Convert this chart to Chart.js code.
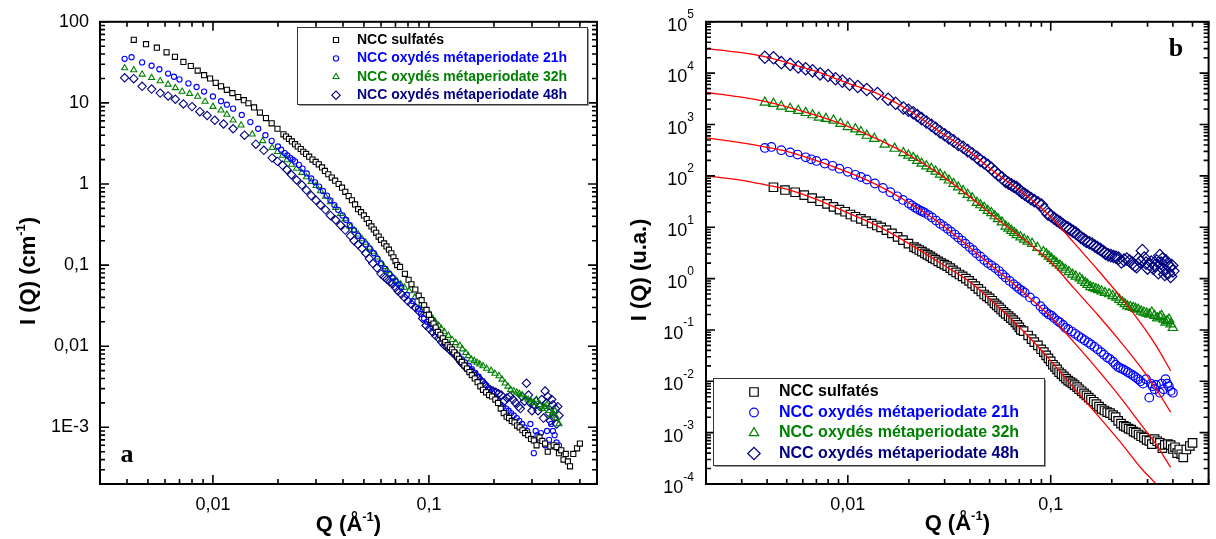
<!DOCTYPE html>
<html lang="fr">
<head>
<meta charset="utf-8">
<title>NCC - SAXS</title>
<script src="https://cdn.jsdelivr.net/npm/chart.js@4.4.1/dist/chart.umd.min.js"></script>
<style>
  html, body { margin: 0; padding: 0; background: #fff; }
  #wrap { position: relative; width: 1216px; height: 539px; overflow: hidden; background: #fff; }
  #wrap canvas { position: absolute; top: 0; }
  #panelA { left: 0; }
  #panelB { left: 608px; }
</style>
</head>
<body>
<div id="wrap">
  <canvas id="panelA" width="608" height="539"></canvas>
  <canvas id="panelB" width="608" height="539"></canvas>
</div>
<script>
// Données : Q (Å-1) et I (cm-1)
const seriesLabels = [
  'NCC sulfatés',
  'NCC oxydés métaperiodate 21h',
  'NCC oxydés métaperiodate 32h',
  'NCC oxydés métaperiodate 48h'
];

const qSulf = [0.0043, 0.0049, 0.0055, 0.0061, 0.00667, 0.0073, 0.0079, 0.0085, 0.0091, 0.0097,
  0.0103, 0.0109, 0.0116, 0.0123, 0.0131, 0.0139, 0.0146, 0.0155, 0.0165, 0.0176,
  0.0187, 0.0199, 0.0212, 0.0218, 0.0225, 0.0232, 0.024, 0.0247, 0.0255, 0.0262,
  0.027, 0.0279, 0.0289, 0.0299, 0.0309, 0.032, 0.033, 0.0342, 0.0355, 0.0368,
  0.0382, 0.0396, 0.041, 0.0425, 0.044, 0.0455, 0.047, 0.0485, 0.050, 0.0515,
  0.0528, 0.0542, 0.0556, 0.057, 0.0585, 0.06, 0.062, 0.0636, 0.0653, 0.067,
  0.0685, 0.07, 0.0713, 0.0735, 0.0774, 0.0805, 0.083, 0.0865, 0.0897, 0.0925,
  0.095, 0.0975, 0.1, 0.1025, 0.105, 0.1075, 0.11, 0.113, 0.116, 0.119,
  0.122, 0.125, 0.128, 0.131, 0.135, 0.138, 0.142, 0.146, 0.15, 0.154,
  0.158, 0.163, 0.168, 0.173, 0.178, 0.184, 0.19, 0.196, 0.203, 0.209,
  0.215, 0.222, 0.229, 0.235, 0.242, 0.249, 0.256, 0.263, 0.271, 0.279,
  0.288, 0.297, 0.306, 0.315, 0.325, 0.335, 0.345, 0.355, 0.365, 0.378,
  0.39, 0.40, 0.41, 0.42, 0.43, 0.44, 0.45, 0.466, 0.485, 0.50];
const iSulf = [60, 53, 48, 42, 37, 32, 28.5, 25, 22, 20,
  17.7, 16, 14.5, 13.2, 11.8, 10.8, 9.9, 8.8, 7.6, 6.5,
  5.6, 4.8, 4.1, 3.85, 3.6, 3.35, 3.1, 2.9, 2.7, 2.5,
  2.35, 2.17, 2.0, 1.87, 1.75, 1.6, 1.45, 1.32, 1.2, 1.1,
  1.0, 0.9, 0.8, 0.71, 0.63, 0.56, 0.49, 0.45, 0.41, 0.37,
  0.33, 0.3, 0.275, 0.25, 0.225, 0.205, 0.185, 0.17, 0.155, 0.14,
  0.125, 0.112, 0.1, 0.095, 0.078, 0.066, 0.058, 0.05, 0.042, 0.037,
  0.032, 0.028, 0.0245, 0.021, 0.019, 0.017, 0.015, 0.0138, 0.0125, 0.0113,
  0.0103, 0.0097, 0.0091, 0.0084, 0.0077, 0.007, 0.0064, 0.0058, 0.0053, 0.0048,
  0.0044, 0.004, 0.0036, 0.0032, 0.0029, 0.0027, 0.0025, 0.0024, 0.0022, 0.002,
  0.0017, 0.0015, 0.00135, 0.0013, 0.0012, 0.00115, 0.00105, 0.001, 0.00092, 0.00085,
  0.0008, 0.00072, 0.00069, 0.0006, 0.00075, 0.00068, 0.00063, 0.0005, 0.00058, 0.0006,
  0.00057, 0.00048, 0.00052, 0.0004, 0.00047, 0.00038, 0.00033, 0.00047, 0.00055, 0.00063];

const q21 = [0.0039, 0.0042, 0.0047, 0.0052, 0.00565, 0.0062, 0.0066, 0.0070, 0.0077, 0.0084,
  0.0091, 0.01, 0.0109, 0.0116, 0.0124, 0.0136, 0.0149, 0.0162, 0.0175, 0.0187,
  0.02, 0.0207, 0.0215, 0.0221, 0.0228, 0.0234, 0.024, 0.025, 0.026, 0.0272,
  0.0285, 0.0297, 0.031, 0.0323, 0.0337, 0.035, 0.0365, 0.038, 0.0398, 0.0414,
  0.043, 0.045, 0.047, 0.049, 0.051, 0.0533, 0.0556, 0.0578, 0.060, 0.0628,
  0.0656, 0.068, 0.070, 0.0723, 0.0745, 0.079, 0.084, 0.089, 0.092, 0.095,
  0.098, 0.101, 0.104, 0.108, 0.111, 0.115, 0.118, 0.122, 0.127, 0.132,
  0.137, 0.142, 0.147, 0.153, 0.158, 0.164, 0.17, 0.177, 0.183, 0.19,
  0.196, 0.203, 0.209, 0.215, 0.221, 0.228, 0.234, 0.24, 0.247, 0.255,
  0.262, 0.27, 0.277, 0.285, 0.295, 0.306, 0.312, 0.318, 0.325, 0.33,
  0.345, 0.352, 0.36, 0.368, 0.375, 0.382, 0.39, 0.40];
const i21 = [35, 36.6, 31.6, 28.7, 26, 23, 21, 19.5, 17.4, 15.7,
  13.8, 12, 10.5, 9.5, 8.5, 7.1, 5.8, 4.8, 4.0, 3.4,
  2.9, 2.65, 2.4, 2.25, 2.1, 2.0, 1.9, 1.72, 1.55, 1.35,
  1.17, 1.05, 0.93, 0.82, 0.72, 0.63, 0.55, 0.48, 0.41, 0.36,
  0.31, 0.27, 0.23, 0.2, 0.18, 0.16, 0.14, 0.12, 0.105, 0.09,
  0.078, 0.07, 0.063, 0.058, 0.053, 0.043, 0.036, 0.029, 0.025, 0.022,
  0.02, 0.019, 0.017, 0.015, 0.014, 0.0125, 0.011, 0.0103, 0.0093, 0.0084,
  0.0076, 0.0069, 0.0063, 0.0057, 0.0052, 0.0047, 0.0042, 0.0037, 0.0033, 0.0029,
  0.0027, 0.0024, 0.0021, 0.0019, 0.0018, 0.0017, 0.0016, 0.0015, 0.0014, 0.0013,
  0.0012, 0.0011, 0.001, 0.0009, 0.0011, 0.00048, 0.0009, 0.0008, 0.0007, 0.00085,
  0.0006, 0.0009, 0.0007, 0.0011, 0.0009, 0.0008, 0.00065, 0.0006];

const q32 = [0.0039, 0.0043, 0.0047, 0.0052, 0.0057, 0.0062, 0.0067, 0.0072, 0.0078, 0.0085,
  0.0092, 0.01, 0.0109, 0.0116, 0.0124, 0.0135, 0.0152, 0.017, 0.0188, 0.0199,
  0.021, 0.022, 0.0231, 0.0244, 0.0258, 0.0271, 0.0285, 0.03, 0.0315, 0.0332,
  0.035, 0.037, 0.039, 0.041, 0.0433, 0.045, 0.047, 0.049, 0.051, 0.053,
  0.055, 0.0575, 0.060, 0.062, 0.064, 0.066, 0.068, 0.071, 0.074, 0.077,
  0.081, 0.086, 0.092, 0.095, 0.098, 0.101, 0.104, 0.107, 0.111, 0.114,
  0.118, 0.123, 0.128, 0.133, 0.139, 0.143, 0.148, 0.152, 0.157, 0.162,
  0.167, 0.172, 0.178, 0.185, 0.194, 0.202, 0.211, 0.218, 0.225, 0.232,
  0.239, 0.247, 0.255, 0.262, 0.27, 0.279, 0.288, 0.297, 0.306, 0.315,
  0.325, 0.335, 0.345, 0.352, 0.36, 0.368, 0.375, 0.383, 0.39, 0.40];
const i32 = [26.9, 25.5, 22.5, 20.4, 18.6, 16.9, 15.3, 13.8, 13, 12,
  10.4, 9.0, 8.1, 7.2, 6.1, 5.3, 4.1, 3.4, 2.8, 2.5,
  2.25, 1.98, 1.74, 1.55, 1.38, 1.22, 1.07, 0.95, 0.82, 0.7,
  0.6, 0.51, 0.43, 0.37, 0.3, 0.27, 0.24, 0.21, 0.19, 0.165,
  0.145, 0.125, 0.104, 0.095, 0.086, 0.078, 0.071, 0.064, 0.058, 0.053,
  0.048, 0.04, 0.033, 0.03, 0.027, 0.0245, 0.022, 0.02, 0.018, 0.0165,
  0.015, 0.0135, 0.012, 0.011, 0.0102, 0.0092, 0.0083, 0.0076, 0.0069, 0.0066,
  0.0063, 0.006, 0.0057, 0.0053, 0.005, 0.0046, 0.0043, 0.0039, 0.0035, 0.0032,
  0.0029, 0.0028, 0.0027, 0.0026, 0.0025, 0.0023, 0.0022, 0.0021, 0.002, 0.0022,
  0.0019, 0.0017, 0.0018, 0.0019, 0.0016, 0.0014, 0.0015, 0.0016, 0.0013, 0.0011];

const q48 = [0.0039, 0.0043, 0.0047, 0.0052, 0.0057, 0.0062, 0.0067, 0.0073, 0.008, 0.0087,
  0.0094, 0.0102, 0.0112, 0.0124, 0.014, 0.0158, 0.0172, 0.0188, 0.0199, 0.021,
  0.022, 0.0231, 0.0244, 0.0258, 0.0271, 0.0285, 0.03, 0.0315, 0.0332, 0.035,
  0.037, 0.039, 0.041, 0.0433, 0.045, 0.047, 0.049, 0.051, 0.053, 0.055,
  0.0575, 0.060, 0.062, 0.064, 0.066, 0.068, 0.07, 0.072, 0.0745, 0.077,
  0.08, 0.083, 0.0865, 0.090, 0.0935, 0.097, 0.1005, 0.104, 0.1075, 0.111,
  0.1145, 0.118, 0.1215, 0.125, 0.129, 0.133, 0.137, 0.141, 0.1455, 0.15,
  0.155, 0.16, 0.165, 0.17, 0.1755, 0.181, 0.186, 0.192, 0.198, 0.204,
  0.21, 0.216, 0.223, 0.23, 0.237, 0.245, 0.252, 0.26, 0.265, 0.27,
  0.277, 0.283, 0.289, 0.295, 0.3, 0.306, 0.313, 0.32, 0.327, 0.333,
  0.339, 0.345, 0.35, 0.355, 0.36, 0.365, 0.37, 0.375, 0.38, 0.385,
  0.39, 0.395, 0.40];
const i48 = [20.4, 19.9, 16, 14.8, 13.2, 12.2, 11.1, 9.7, 9.0, 7.8,
  7.0, 6.1, 5.5, 4.8, 4.0, 3.1, 2.6, 2.1, 1.9, 1.7,
  1.5, 1.3, 1.12, 0.97, 0.84, 0.72, 0.63, 0.55, 0.48, 0.41,
  0.36, 0.31, 0.27, 0.23, 0.2, 0.18, 0.16, 0.14, 0.12, 0.105,
  0.092, 0.078, 0.072, 0.067, 0.062, 0.059, 0.053, 0.048, 0.044, 0.04,
  0.036, 0.033, 0.03, 0.027, 0.022, 0.018, 0.0165, 0.015, 0.0135, 0.0125,
  0.0113, 0.0103, 0.0097, 0.009, 0.0083, 0.0077, 0.007, 0.0063, 0.0058, 0.0053,
  0.005, 0.0047, 0.0043, 0.004, 0.0037, 0.0034, 0.0031, 0.0029, 0.0028, 0.0027,
  0.0026, 0.0025, 0.0021, 0.0023, 0.0024, 0.0022, 0.002, 0.0018, 0.0017, 0.0024,
  0.0021, 0.0035, 0.0025, 0.002, 0.0016, 0.0019, 0.0021, 0.0016, 0.0018, 0.0022,
  0.0013, 0.0028, 0.002, 0.0024, 0.0015, 0.0012, 0.0022, 0.0019, 0.0013, 0.0017,
  0.0011, 0.0018, 0.0014];

// Décalages verticaux utilisés dans la figure b
const shiftB = [1, 10, 100, 1000];

// Ajustements (traits rouges) de la figure b, déjà décalés
const qFit = [0.002, 0.003, 0.004, 0.005, 0.007, 0.01, 0.014, 0.02, 0.028, 0.04,
  0.055, 0.075, 0.1, 0.13, 0.17, 0.22, 0.28, 0.33, 0.39];
const fitSulf = [100, 82, 66, 55, 35, 19, 10.6, 4.8, 2.1, 0.86,
  0.285, 0.086, 0.025, 0.0074, 0.0022, 0.00066, 0.0002, 0.0001, 0.00004];
const fit21 = [550, 440, 360, 300, 198, 118, 66, 30, 12.5, 4.0,
  1.4, 0.5, 0.18, 0.058, 0.017, 0.0049, 0.0014, 0.0006, 0.00021];
const fit32 = [4200, 3400, 2750, 2200, 1500, 920, 520, 255, 112, 39,
  14, 5.5, 2.1, 0.65, 0.2, 0.06, 0.018, 0.0072, 0.0025];
const fit48 = [30000, 25000, 20500, 16000, 10800, 6400, 4000, 1900, 750, 290,
  105, 43, 16, 5, 1.5, 0.45, 0.13, 0.05, 0.016];

// Graduations
const xTicks = [0.01, 0.1];
const xTickLabels = ['0,01', '0,1'];
const yTicksA = [100, 10, 1, 0.1, 0.01, 0.001];
const yTickLabelsA = ['100', '10', '1', '0,1', '0,01', '1E-3'];
const yTicksB = [1e5, 1e4, 1e3, 1e2, 1e1, 1, 0.1, 0.01, 0.001, 0.0001];
const yTickExpB = ['5', '4', '3', '2', '1', '0', '-1', '-2', '-3', '-4'];

const FONT = 'Liberation Sans, Arial, sans-serif';
Chart.defaults.font.family = FONT;
Chart.defaults.color = '#000';

const toPoints = (qs, is, k = 1) => qs.map((q, i) => ({ x: q, y: is[i] * k }));

function drawMarker(ctx, style, x, y, r) {
  ctx.beginPath();
  if (style === 'rect') {
    const s = r * Math.SQRT1_2;
    ctx.rect(x - s, y - s, 2 * s, 2 * s);
  } else if (style === 'circle') {
    ctx.arc(x, y, r, 0, Math.PI * 2);
  } else if (style === 'triangle') {
    ctx.moveTo(x, y - r);
    ctx.lineTo(x + r * Math.sin(Math.PI / 3), y + r / 2);
    ctx.lineTo(x - r * Math.sin(Math.PI / 3), y + r / 2);
    ctx.closePath();
  } else if (style === 'rectRot') {
    ctx.moveTo(x - r, y);
    ctx.lineTo(x, y - r);
    ctx.lineTo(x + r, y);
    ctx.lineTo(x, y + r);
    ctx.closePath();
  }
  ctx.fill();
  ctx.stroke();
}

// texte avec exposant : parts = [[texte, estExposant], ...]
function drawParts(ctx, parts, cx, cy, size, supSize) {
  const fonts = parts.map(p => `bold ${p[1] ? supSize : size}px ${FONT}`);
  let width = 0;
  parts.forEach((p, i) => { ctx.font = fonts[i]; width += ctx.measureText(p[0]).width; });
  let x = cx - width / 2;
  ctx.textAlign = 'left';
  ctx.textBaseline = 'middle';
  parts.forEach((p, i) => {
    ctx.font = fonts[i];
    ctx.fillText(p[0], x, p[1] ? cy - size * 0.36 : cy);
    x += ctx.measureText(p[0]).width;
  });
}

function logSteps(min, max) {
  const out = [];
  for (let e = Math.floor(Math.log10(min)); e <= Math.ceil(Math.log10(max)); e++) {
    for (let m = 1; m <= 9; m++) {
      const v = m * Math.pow(10, e);
      if (v >= min * 0.9999 && v <= max * 1.0001) out.push({ v, major: m === 1 });
    }
  }
  return out;
}

// cadre et graduations intérieures sur les quatre côtés
const frameTicksPlugin = {
  id: 'frameTicks',
  afterDraw(chart) {
    const { ctx, chartArea: a, scales } = chart;
    ctx.save();
    ctx.strokeStyle = '#000';
    ctx.lineWidth = 1.6;
    ctx.beginPath();
    logSteps(scales.x.min, scales.x.max).forEach(t => {
      const px = scales.x.getPixelForValue(t.v);
      const len = t.major ? 9 : 5;
      ctx.moveTo(px, a.bottom); ctx.lineTo(px, a.bottom - len);
      ctx.moveTo(px, a.top); ctx.lineTo(px, a.top + len);
    });
    logSteps(scales.y.min, scales.y.max).forEach(t => {
      const py = scales.y.getPixelForValue(t.v);
      const len = t.major ? 9 : 5;
      ctx.moveTo(a.left, py); ctx.lineTo(a.left + len, py);
      ctx.moveTo(a.right, py); ctx.lineTo(a.right - len, py);
    });
    ctx.stroke();
    ctx.lineWidth = 2;
    ctx.strokeRect(a.left, a.top, a.right - a.left, a.bottom - a.top);
    ctx.restore();
  }
};

// légende encadrée avec ombre
const boxLegendPlugin = {
  id: 'boxLegend',
  afterDraw(chart, args, opts) {
    const { ctx } = chart;
    const [bx, by, bw, bh] = opts.box;
    ctx.save();
    ctx.fillStyle = '#9a9a9a';
    ctx.fillRect(bx + 2, by + 2, bw, bh);
    ctx.fillStyle = '#fff';
    ctx.fillRect(bx, by, bw, bh);
    ctx.strokeStyle = '#333';
    ctx.lineWidth = 1;
    ctx.strokeRect(bx + 0.5, by + 0.5, bw, bh);
    const items = chart.data.datasets.filter(ds => ds.inLegend);
    items.forEach((ds, i) => {
      const y = opts.rowY + i * opts.rowStep;
      ctx.strokeStyle = ds.borderColor;
      ctx.fillStyle = ds.backgroundColor;
      ctx.lineWidth = ds.borderWidth;
      drawMarker(ctx, ds.pointStyle, opts.markerX, y, ds.pointRadius);
      ctx.fillStyle = ds.borderColor;
      ctx.font = `bold ${opts.fontSize}px ${FONT}`;
      ctx.textAlign = 'left';
      ctx.textBaseline = 'middle';
      ctx.fillText(ds.label, opts.textX, y);
    });
    ctx.restore();
  }
};

// titres d'axes, lettre du panneau, étiquettes 10^n
const panelTextPlugin = {
  id: 'panelText',
  afterDraw(chart, args, opts) {
    const { ctx, chartArea: a, scales } = chart;
    ctx.save();
    ctx.fillStyle = '#000';
    drawParts(ctx, [['Q (Å', false], ['-1', true], [')', false]], (a.left + a.right) / 2, opts.xTitleY, 22, 13);
    ctx.save();
    ctx.translate(opts.yTitleX, (a.top + a.bottom) / 2 + opts.yTitleShift);
    ctx.rotate(-Math.PI / 2);
    drawParts(ctx, opts.yTitle, 0, 0, 22, 13);
    ctx.restore();
    ctx.font = `bold 26px Liberation Serif, Times New Roman, serif`;
    ctx.textAlign = 'center';
    ctx.textBaseline = 'middle';
    ctx.fillText(opts.letter, opts.letterX, opts.letterY);
    if (opts.expTicks) {
      ctx.textAlign = 'left';
      ctx.textBaseline = 'alphabetic';
      yTicksB.forEach((v, i) => {
        const py = scales.y.getPixelForValue(v);
        ctx.font = `12px ${FONT}`;
        const we = ctx.measureText(yTickExpB[i]).width;
        ctx.font = `18px ${FONT}`;
        const wb = ctx.measureText('10').width;
        const right = a.left - 12;
        ctx.fillText('10', right - we - wb, py + 9);
        ctx.font = `12px ${FONT}`;
        ctx.fillText(yTickExpB[i], right - we, py - 3.5);
      });
    }
    ctx.restore();
  }
};

class SaxsFigure {
  constructor() {
    this.chartA = null;
    this.chartB = null;
    this.init();
  }

  init() {
    console.log('📊 Figure SAXS NCC...');
    this.renderPanelA();
    this.renderPanelB();
  }

  axes(yMin, yMax, xMin, yTicks, yLabels, yWidth) {
    return {
      x: {
        type: 'logarithmic',
        min: xMin,
        max: 0.6,
        grid: { display: false, drawTicks: false },
        border: { display: false },
        afterBuildTicks: s => { s.ticks = xTicks.map(v => ({ value: v })); },
        afterFit: s => { s.height = 55; },
        ticks: {
          autoSkip: false,
          maxRotation: 0,
          padding: 10,
          font: { size: 18 },
          color: '#000',
          callback: (v, i) => xTickLabels[i]
        }
      },
      y: {
        type: 'logarithmic',
        min: yMin,
        max: yMax,
        grid: { display: false, drawTicks: false },
        border: { display: false },
        afterBuildTicks: s => { s.ticks = yTicks.map(v => ({ value: v })); },
        afterFit: s => { s.width = yWidth; },
        ticks: {
          autoSkip: false,
          padding: 11,
          font: { size: 18 },
          color: '#000',
          callback: (v, i) => (yLabels ? yLabels[i] : '')
        }
      }
    };
  }

  baseOptions(scales, padRight, padTop, panel) {
    return {
      responsive: false,
      animation: false,
      devicePixelRatio: 1,
      events: [],
      layout: { padding: { left: 0, right: padRight, top: padTop, bottom: 0 } },
      scales,
      plugins: {
        legend: { display: false },
        tooltip: { enabled: false },
        boxLegend: panel.legend,
        panelText: panel.text
      }
    };
  }

  renderPanelA() {
    const ctx = document.getElementById('panelA');
    const none = 'rgba(0,0,0,0)';
    try {
      this.chartA = new Chart(ctx, {
        type: 'scatter',
        data: {
          datasets: [
            { label: seriesLabels[0], data: toPoints(qSulf, iSulf), inLegend: true, pointStyle: 'rect', pointRadius: 3.6, borderColor: '#000000', backgroundColor: '#ffffff', borderWidth: 1.1 },
            { label: seriesLabels[1], data: toPoints(q21, i21), inLegend: true, pointStyle: 'circle', pointRadius: 2.6, borderColor: '#0000ff', backgroundColor: none, borderWidth: 1.1 },
            { label: seriesLabels[2], data: toPoints(q32, i32), inLegend: true, pointStyle: 'triangle', pointRadius: 3.5, borderColor: '#008000', backgroundColor: none, borderWidth: 1.1 },
            { label: seriesLabels[3], data: toPoints(q48, i48), inLegend: true, pointStyle: 'rectRot', pointRadius: 4.2, borderColor: '#000080', backgroundColor: none, borderWidth: 1.1 }
          ]
        },
        options: this.baseOptions(
          this.axes(2e-4, 100, 0.003, yTicksA, yTickLabelsA, 100), 11, 18,
          {
            legend: { box: [297, 27, 290, 77], markerX: 336, textX: 357, rowY: 40, rowStep: 18.4, fontSize: 14 },
            text: { xTitleY: 525, yTitleX: 29, yTitleShift: 18, yTitle: [['I (Q) (cm', false], ['-1', true], [')', false]], letter: 'a', letterX: 127, letterY: 455 }
          }
        ),
        plugins: [frameTicksPlugin, boxLegendPlugin, panelTextPlugin]
      });
      console.log('✅ Figure a rendue');
    } catch (error) {
      console.error('❌ Erreur figure a:', error);
    }
  }

  renderPanelB() {
    const ctx = document.getElementById('panelB');
    const none = 'rgba(0,0,0,0)';
    const fit = (vals) => ({ data: toPoints(qFit, vals), showLine: true, pointRadius: 0, borderColor: '#ff0000', backgroundColor: none, borderWidth: 1.3, tension: 0.3, order: 0 });
    try {
      this.chartB = new Chart(ctx, {
        type: 'scatter',
        data: {
          datasets: [
            fit(fitSulf), fit(fit21), fit(fit32), fit(fit48),
            { label: seriesLabels[0], data: toPoints(qSulf, iSulf, shiftB[0]), inLegend: true, order: 1, pointStyle: 'rect', pointRadius: 6, borderColor: '#000000', backgroundColor: '#ffffff', borderWidth: 1.2 },
            { label: seriesLabels[1], data: toPoints(q21, i21, shiftB[1]), inLegend: true, order: 1, pointStyle: 'circle', pointRadius: 4.3, borderColor: '#0000ff', backgroundColor: none, borderWidth: 1.2 },
            { label: seriesLabels[2], data: toPoints(q32, i32, shiftB[2]), inLegend: true, order: 1, pointStyle: 'triangle', pointRadius: 5.4, borderColor: '#008000', backgroundColor: none, borderWidth: 1.2 },
            { label: seriesLabels[3], data: toPoints(q48, i48, shiftB[3]), inLegend: true, order: 1, pointStyle: 'rectRot', pointRadius: 6.2, borderColor: '#000080', backgroundColor: none, borderWidth: 1.2 }
          ]
        },
        options: this.baseOptions(
          this.axes(1e-4, 1e5, 0.002, yTicksB, null, 98), 3, 19,
          {
            legend: { box: [105, 378, 331, 87], markerX: 146, textX: 171, rowY: 392, rowStep: 20.5, fontSize: 16 },
            text: { xTitleY: 524, yTitleX: 32, yTitleShift: 17, yTitle: [['I (Q) (u.a.)', false]], letter: 'b', letterX: 568, letterY: 49, expTicks: true }
          }
        ),
        plugins: [frameTicksPlugin, boxLegendPlugin, panelTextPlugin]
      });
      console.log('✅ Figure b rendue');
    } catch (error) {
      console.error('❌ Erreur figure b:', error);
    }
  }
}

document.addEventListener('DOMContentLoaded', function () {
  new SaxsFigure();
});
</script>
</body>
</html>
